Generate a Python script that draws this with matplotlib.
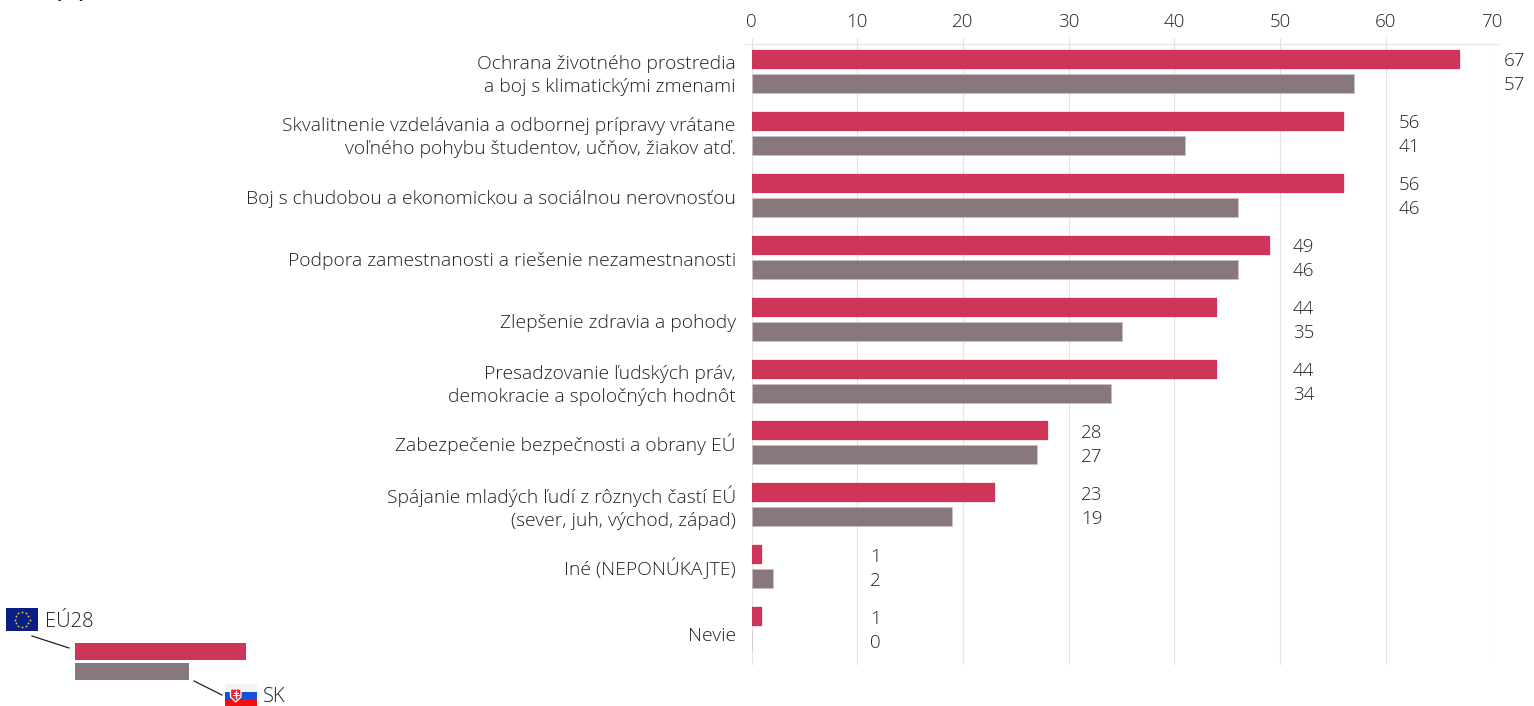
import matplotlib
matplotlib.use('Agg')
import matplotlib.pyplot as plt
from matplotlib.patches import Rectangle, Polygon
import numpy as np

W, H = 1534, 706

categories = [
    "Ochrana životného prostredia\na boj s klimatickými zmenami",
    "Skvalitnenie vzdelávania a odbornej prípravy vrátane\nvoľného pohybu študentov, učňov, žiakov atď.",
    "Boj s chudobou a ekonomickou a sociálnou nerovnosťou",
    "Podpora zamestnanosti a riešenie nezamestnanosti",
    "Zlepšenie zdravia a pohody",
    "Presadzovanie ľudských práv,\ndemokracie a spoločných hodnôt",
    "Zabezpečenie bezpečnosti a obrany EÚ",
    "Spájanie mladých ľudí z rôznych častí EÚ\n(sever, juh, východ, západ)",
    "Iné (NEPONÚKAJTE)",
    "Nevie",
]
eu28 = [67, 56, 56, 49, 44, 44, 28, 23, 1, 1]
sk = [57, 41, 46, 46, 35, 34, 27, 19, 2, 0]
ticks = [0, 10, 20, 30, 40, 50, 60, 70]

RED = '#cf3559'
GREY = '#89787b'
TXT = '#222222'
GRID = '#e3e3e3'
plt.rcParams['font.family'] = ['Open Sans', 'DejaVu Sans']
plt.rcParams['font.weight'] = 'light'

fig = plt.figure(figsize=(W / 100, H / 100), dpi=100)

# main axes, placed in pixels: x 751.5-1491.5, y 38-665
top, bottom = 38, 665
ax = fig.add_axes([751.5 / W, 1 - bottom / H, 740 / W, (bottom - top) / H])
ax.set_xlim(0, 70)
# one y unit = one pixel, measured from the top of the picture
ax.set_ylim(bottom, top)
for s in ax.spines.values():
    s.set_visible(False)
ax.xaxis.tick_top()
ax.set_xticks(ticks)
ax.tick_params(axis='x', length=0, pad=5, labelsize=13.5, labelcolor=TXT)
ax.set_yticks([])
ax.grid(axis='x', color=GRID, lw=0.8)
ax.set_axisbelow(True)

row0, step = 71.5, 61.9
rows = row0 + step * np.arange(len(categories))
ax.barh(rows - 12, eu28, height=19, color=RED, edgecolor=RED, lw=0.2)
ax.barh(rows + 12, sk, height=19, color=GREY, edgecolor='#c9c0c2', lw=0.5)
for y, a, b, name in zip(rows, eu28, sk, categories):
    lab_x = np.ceil(max(a, b) / 10) * 10 + 1.2
    ax.text(lab_x, y - 10, str(a), va='center', ha='left', fontsize=13.5, color=TXT, clip_on=False)
    ax.text(lab_x, y + 14, str(b), va='center', ha='left', fontsize=13.5, color=TXT, clip_on=False)
    # baseline of the last line; the two-line labels sit lower, Nevie is set low in the original
    dy = 21 if '\n' in name else 8.5
    if name == "Nevie":
        dy = 12.4
    ax.text(-1.5, y + dy, name, va='baseline', ha='right', ma='right', fontsize=13.9, color=TXT,
            linespacing=1.36, clip_on=False)

# overlay in pixel coordinates for the top rule, title stub and the key
ov = fig.add_axes([0, 0, 1, 1])
ov.set_xlim(0, W)
ov.set_ylim(H, 0)
ov.axis('off')
ov.patch.set_alpha(0)
ov.plot([745, 1498], [44, 44], color=GRID, lw=0.8)
ov.text(54, 3, "(%)", fontsize=14.5, fontweight='bold', color=TXT, va='bottom', ha='left', clip_on=True)

ov.add_patch(Rectangle((75, 643), 171, 17, color=RED, lw=0))
ov.add_patch(Rectangle((75, 662.5), 114, 17, color=GREY, lw=0))
ov.plot([32, 69], [636, 648], color=TXT, lw=0.9)
ov.plot([194, 222], [681, 695], color=TXT, lw=0.9)

# EU flag
ov.add_patch(Rectangle((6, 608), 32, 23, color='#0b1e86', lw=0))
ang = np.deg2rad(np.arange(0, 360, 30))
ov.scatter(22 + 7.5 * np.cos(ang), 619.5 + 7.5 * np.sin(ang), s=1.8, color='#e6c81e', lw=0)
ov.text(45, 622, "EÚ28", fontsize=14.5, color=TXT, va='center', ha='left')

# SK flag
ov.add_patch(Rectangle((224.5, 684), 32.5, 8, color='#f4f4f4', lw=0))
ov.add_patch(Rectangle((224.5, 692), 32.5, 8, color='#1550d8', lw=0))
ov.add_patch(Rectangle((224.5, 700), 32.5, 6, color='#f01010', lw=0))
ov.add_patch(Polygon([(230.5, 689), (241, 689), (241, 697), (235.75, 702), (230.5, 697)],
                     closed=True, facecolor='#e8252a', edgecolor='white', lw=0.9))
ov.plot([235.75, 235.75], [690.5, 698], color='white', lw=0.9)
ov.plot([233.5, 238], [692.5, 692.5], color='white', lw=0.7)
ov.plot([233, 238.5], [695, 695], color='white', lw=0.7)
ov.text(263, 697, "SK", fontsize=14.5, color=TXT, va='center', ha='left')

fig.savefig('out.png', dpi=100)
